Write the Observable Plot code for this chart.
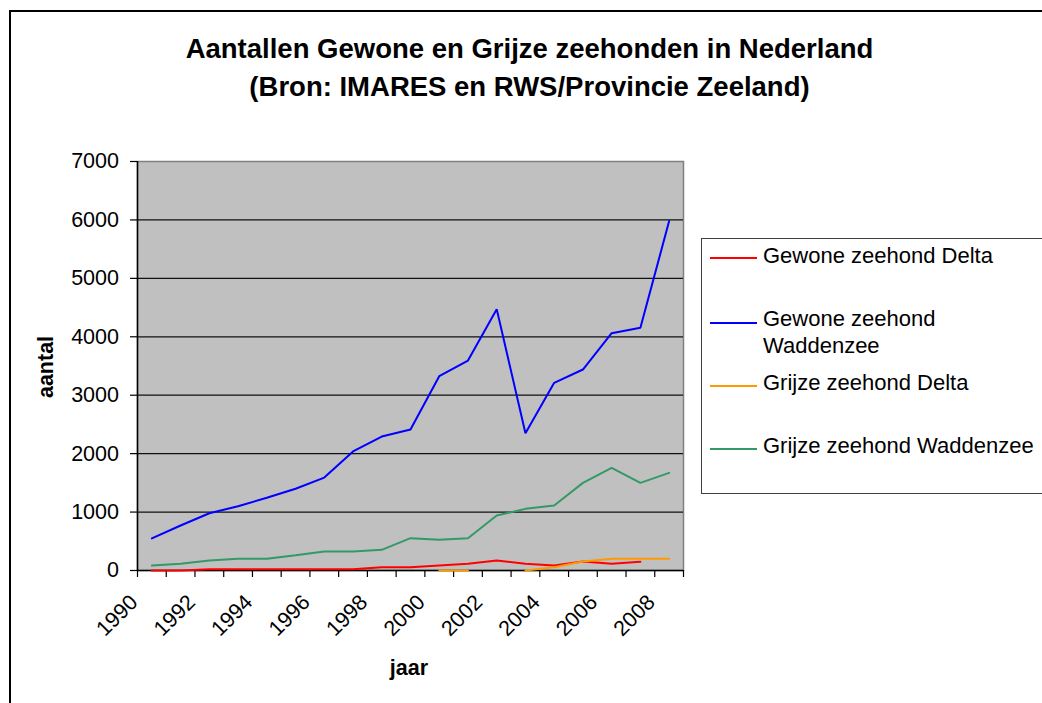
<!DOCTYPE html>
<html>
<head>
<meta charset="utf-8">
<script src="https://cdn.jsdelivr.net/npm/d3@7"></script>
<script src="https://cdn.jsdelivr.net/npm/@observablehq/plot@0.6"></script>
<style>
  html, body { margin: 0; padding: 0; background: #fff; }
  #wrap { position: relative; width: 1042px; height: 703px; overflow: hidden; font-family: "Liberation Sans", Arial, sans-serif; color: #000; }
  #wrap svg { position: absolute; left: 0; top: 0; }
  .abs { position: absolute; white-space: nowrap; line-height: 1; }
  #border { position: absolute; left: 9px; top: 10px; width: 1100px; height: 800px; border: 2px solid #000; }
  .title { font-size: 27.5px; font-weight: bold; width: 1059px; left: 0; text-align: center; }
  #legend { position: absolute; left: 701px; top: 238px; width: 400px; height: 254px; border: 1.5px solid #404040; }
  .legtxt { font-size: 22px; left: 763px; }
  .sw { position: absolute; left: 710px; width: 47px; height: 2px; }
  .axt { font-size: 21.5px; font-weight: bold; }
</style>
</head>
<body>
<div id="wrap">
  <div id="chart"></div>
</div>
<script>
const years = [1990,1991,1992,1993,1994,1995,1996,1997,1998,1999,2000,2001,2002,2003,2004,2005,2006,2007,2008];
const labelYears = [1990,1992,1994,1996,1998,2000,2002,2004,2006,2008];
const yTicks = [0,1000,2000,3000,4000,5000,6000,7000];
const seriesNames = ["Gewone zeehond Delta","Gewone zeehond Waddenzee","Grijze zeehond Delta","Grijze zeehond Waddenzee"];
const seriesColors = ["#FF0000","#0000FF","#FF9900","#339966"];
const gewoneDelta   = [0,0,20,20,20,20,20,20,57,57,86,114,171,114,86,154,114,148,null];
const gewoneWadden  = [550,770,980,1100,1244,1400,1590,2037,2293,2413,3326,3594,4473,2350,3212,3440,4062,4153,5980];
const grijzeDelta   = [null,null,null,null,null,null,null,null,null,null,0,0,null,0,57,154,200,200,200];
const grijzeWadden  = [86,114,171,200,200,260,325,325,354,553,525,553,941,1055,1112,1500,1757,1500,1671];

const seriesValues = [gewoneDelta, gewoneWadden, grijzeDelta, grijzeWadden];
const table = [];
seriesNames.forEach((name, s) => {
  years.forEach((yr, i) => table.push({year: yr, value: seriesValues[s][i], series: name}));
});
const boundaries = years.map(y => y - 0.5).concat([years[years.length - 1] + 0.5]);
const gridVals = yTicks.filter(v => v > 0 && v < 7000);

const chart = Plot.plot({
  width: 1042,
  height: 703,
  marginLeft: 137,
  marginRight: 359,
  marginTop: 161,
  marginBottom: 133,
  style: {fontFamily: '"Liberation Sans", Arial, sans-serif', background: "transparent", overflow: "visible", color: "#000"},
  x: {domain: [boundaries[0], boundaries[boundaries.length - 1]], axis: null},
  y: {domain: [0, 7000], axis: null},
  color: {domain: seriesNames, range: seriesColors},
  marks: [
    Plot.frame({fill: "#C0C0C0", stroke: "#808080", strokeWidth: 1.5}),
    Plot.ruleY(gridVals, {stroke: "#111", strokeWidth: 1.2}),
    Plot.ruleX([boundaries[0]], {stroke: "#000", strokeWidth: 1.5}),
    Plot.ruleY([0], {stroke: "#000", strokeWidth: 1.5}),
    Plot.axisY({ticks: yTicks, tickSize: 7, tickPadding: 11.5, fontSize: 21.5, tickFormat: d3.format("d"), label: null, stroke: "#000", strokeWidth: 1.2}),
    Plot.axisX({ticks: boundaries, tickSize: 7, tickFormat: () => "", label: null, stroke: "#000", strokeWidth: 1.2}),
    Plot.text(labelYears, {x: d => d, text: d => String(d), frameAnchor: "bottom", rotate: -45, textAnchor: "end", dx: -13, dy: 33, fontSize: 21.5, fill: "#000"}),
    Plot.line(table, {x: "year", y: "value", z: "series", stroke: "series", strokeWidth: 2, strokeLinejoin: "miter"})
  ]
});
document.getElementById("chart").appendChild(chart);

const wrap = document.getElementById("wrap");
function add(html) { wrap.insertAdjacentHTML("beforeend", html); }
add('<div id="border"></div>');
add('<div class="abs title" style="top:35px">Aantallen Gewone en Grijze zeehonden in Nederland</div>');
add('<div class="abs title" style="top:73.2px">(Bron: IMARES en RWS/Provincie Zeeland)</div>');
add('<div class="abs axt" style="left:47px;top:367px;transform:translate(-50%,-50%) rotate(-90deg)">aantal</div>');
add('<div class="abs axt" style="left:409px;top:657.5px;transform:translateX(-50%)">jaar</div>');
add('<div id="legend"></div>');
const swY = [258.3, 322.7, 386, 449.3];
const legTops = [[245.4], [308.1, 335.4], [372.4], [435.4]];
const legLines = [["Gewone zeehond Delta"], ["Gewone zeehond", "Waddenzee"], ["Grijze zeehond Delta"], ["Grijze zeehond Waddenzee"]];
seriesNames.forEach((name, i) => {
  add(`<div class="sw" style="top:${swY[i] - 1}px;background:${seriesColors[i]}"></div>`);
  legLines[i].forEach((t, j) => add(`<div class="abs legtxt" style="top:${legTops[i][j]}px">${t}</div>`));
});
</script>
</body>
</html>
